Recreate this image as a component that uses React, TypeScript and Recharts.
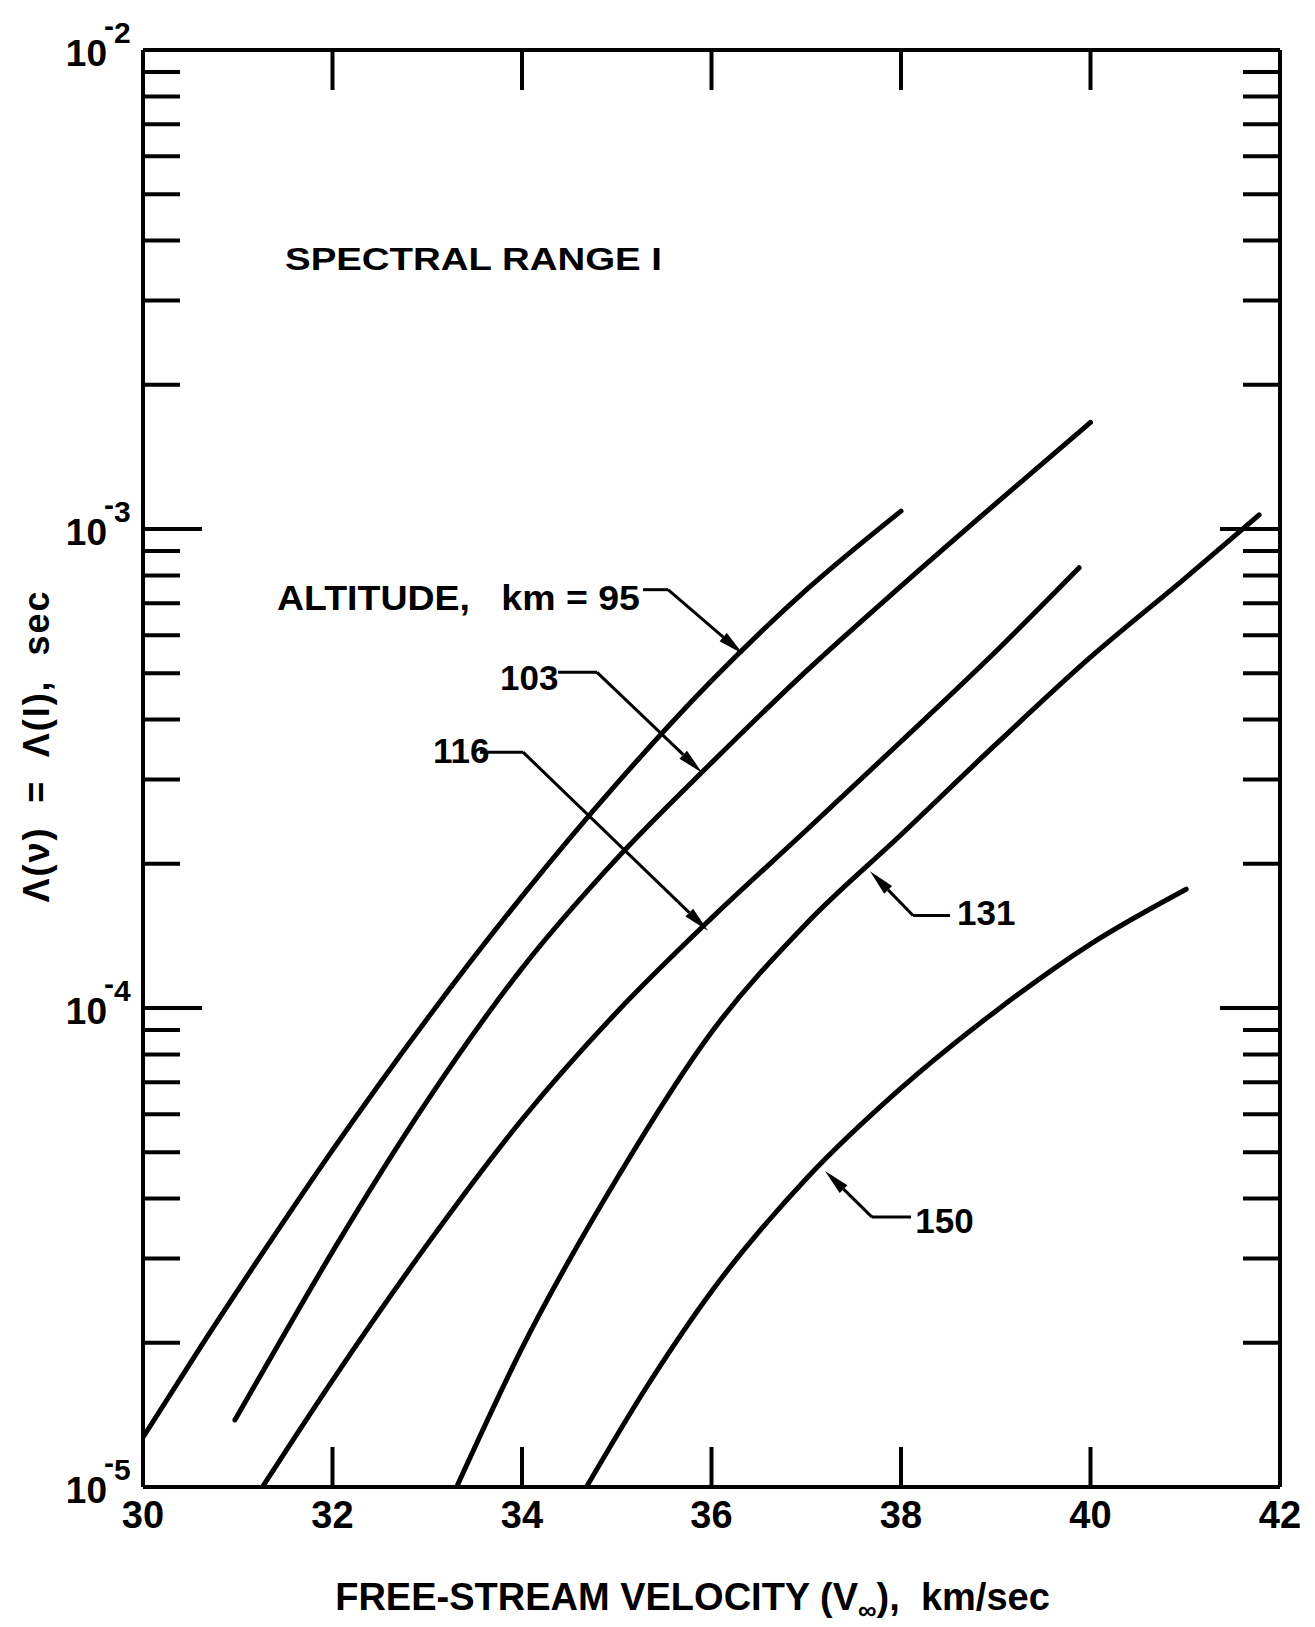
import React from 'react';
import { LineChart, Line, XAxis, YAxis, ReferenceLine, ReferenceDot } from 'recharts';

const FONT = '"Liberation Sans", Arial, Helvetica, sans-serif';
const INK = '#000';

// free-stream velocity (km/sec) vs Λ (sec), one list per altitude
const alt95 = [
  [30.0, 1.27e-5], [30.6, 1.95e-5], [31.3, 3.16e-5], [32.0, 5.05e-5], [33.0, 9.5e-5],
  [34.0, 1.71e-4], [35.0, 2.94e-4], [36.0, 4.82e-4], [37.0, 7.46e-4], [38.0, 1.09e-3],
];
const alt103 = [
  [30.97, 1.38e-5], [31.5, 2.1e-5], [32.0, 3.1e-5], [33.0, 6.4e-5], [34.0, 1.21e-4],
  [35.0, 2.05e-4], [36.0, 3.25e-4], [37.0, 5.05e-4], [38.0, 7.6e-4], [39.0, 1.13e-3], [40.0, 1.67e-3],
];
const alt116 = [
  [31.26, 1.0e-5], [32.0, 1.67e-5], [33.0, 3.21e-5], [34.0, 5.85e-5], [35.0, 9.8e-5],
  [36.0, 1.54e-4], [37.0, 2.35e-4], [38.0, 3.6e-4], [39.0, 5.55e-4], [39.88, 8.3e-4],
];
const alt131 = [
  [33.31, 1.0e-5], [34.0, 1.95e-5], [35.0, 4.4e-5], [36.0, 8.9e-5], [37.0, 1.5e-4],
  [38.0, 2.3e-4], [39.0, 3.55e-4], [40.0, 5.4e-4], [41.0, 7.9e-4], [41.78, 1.07e-3],
];
const alt150 = [
  [34.68, 1.0e-5], [35.3, 1.6e-5], [36.0, 2.56e-5], [37.0, 4.4e-5], [38.0, 6.8e-5],
  [39.0, 9.85e-5], [40.0, 1.36e-4], [41.01, 1.77e-4],
];

const curves = [alt95, alt103, alt116, alt131, alt150];

const velocityTicks = [30, 32, 34, 36, 38, 40, 42];
const decades = [1e-5, 1e-4, 1e-3, 1e-2];
const decadeExponents = ['5', '4', '3', '2'];
const mantissas = [1, 2, 3, 4, 5, 6, 7, 8, 9];
const lambdaTicks = decades.slice(0, 3).flatMap((d) => mantissas.map((m) => m * d)).concat([1e-2]);

// callouts: label anchor (left/baseline) and leader path, in data units
const callouts = [
  { text: 'ALTITUDE,   km = 95', at: [31.414, 6.78e-4], len: 363, path: [[35.277, 7.47e-4], [35.541, 7.47e-4], [36.332, 5.48e-4]] },
  { text: '103', at: [33.768, 4.61e-4], len: 0, path: [[34.38, 5.02e-4], [34.792, 5.02e-4], [35.9, 3.1e-4]] },
  { text: '116', at: [33.061, 3.25e-4], len: 0, path: [[33.557, 3.42e-4], [34.011, 3.42e-4], [35.963, 1.45e-4]] },
  { text: '131', at: [38.591, 1.49e-4], len: 0, path: [[38.517, 1.56e-4], [38.127, 1.56e-4], [37.673, 1.93e-4]] },
  { text: '150', at: [38.15, 3.39e-5], len: 0, path: [[38.106, 3.66e-5], [37.694, 3.66e-5], [37.198, 4.57e-5]] },
];

const W = 1300;
const H = 1619;
const M = { top: 41, right: 27, bottom: 139, left: 134 };
const PLOT_L = M.left + 1;
const PLOT_R = W - M.right - 1;
const PLOT_T = M.top + 1;
const PLOT_B = H - M.bottom - 1;

const majorIndex = (v: number) =>
  decades.findIndex((d) => Math.abs(Math.log10(v) - Math.log10(d)) < 1e-6);

const bottomTick = (p: any) => {
  const { x, y, payload } = p;
  const v = payload.value;
  const inner = v > velocityTicks[0] && v < velocityTicks[velocityTicks.length - 1];
  return (
    <g>
      {inner && <line x1={x} x2={x} y1={y} y2={y - 40} stroke={INK} strokeWidth={4} />}
      <text x={x} y={y + 41} textAnchor="middle" fontFamily={FONT} fontWeight="bold" fontSize={38} fill={INK}>
        {v}
      </text>
    </g>
  );
};

const topTick = (p: any) => {
  const { x, y, payload } = p;
  const v = payload.value;
  if (v <= velocityTicks[0] || v >= velocityTicks[velocityTicks.length - 1]) return <g />;
  return <line x1={x} x2={x} y1={y} y2={y + 40} stroke={INK} strokeWidth={4} />;
};

const leftTick = (p: any) => {
  const { x, y, payload } = p;
  const idx = majorIndex(payload.value);
  const len = idx >= 0 ? 59 : 37;
  return (
    <g>
      <line x1={x} x2={x + len} y1={y} y2={y} stroke={INK} strokeWidth={4} />
      {idx >= 0 && (
        <text x={x - 36} y={y + 16} textAnchor="end" fontFamily={FONT} fontWeight="bold" fontSize={37} fill={INK}>
          10
        </text>
      )}
      {idx >= 0 && (
        <text x={x - 39} y={y - 7} fontFamily={FONT} fontWeight="bold" fontSize={30} fill={INK}>
          <tspan dy={-7}>-</tspan>
          <tspan dy={7}>{decadeExponents[idx]}</tspan>
        </text>
      )}
    </g>
  );
};

const rightTick = (p: any) => {
  const { x, y, payload } = p;
  const len = majorIndex(payload.value) >= 0 ? 60 : 37;
  return <line x1={x} x2={x - len} y1={y} y2={y} stroke={INK} strokeWidth={4} />;
};

const arrowLine = (p: any) => {
  const { x1, y1, x2, y2 } = p;
  const dx = x2 - x1;
  const dy = y2 - y1;
  const L = Math.hypot(dx, dy) || 1;
  const ux = dx / L;
  const uy = dy / L;
  const bx = x2 - ux * 26;
  const by = y2 - uy * 26;
  const nx = -uy * 5.5;
  const ny = ux * 5.5;
  return (
    <g>
      <line x1={x1} y1={y1} x2={bx} y2={by} stroke={INK} strokeWidth={3} />
      <polygon points={`${x2},${y2} ${bx + nx},${by + ny} ${bx - nx},${by - ny}`} fill={INK} />
    </g>
  );
};

const labelAt = (text: string, len: number, size: number) => (p: any) => (
  <text
    x={p.cx}
    y={p.cy}
    fontFamily={FONT}
    fontWeight="bold"
    fontSize={size}
    fill={INK}
    textLength={len > 0 ? len : undefined}
    lengthAdjust={len > 0 ? 'spacingAndGlyphs' : undefined}
    style={{ whiteSpace: 'pre' }}
  >
    {text}
  </text>
);

const xTitle = () => (
  <text
    x={(PLOT_L + PLOT_R) / 2 - 19}
    y={PLOT_B + 123}
    textAnchor="middle"
    fontFamily={FONT}
    fontWeight="bold"
    fontSize={38}
    fill={INK}
    style={{ whiteSpace: 'pre' }}
  >
    FREE-STREAM VELOCITY (V<tspan fontSize={26} dy={9}>∞</tspan>
    <tspan dy={-9}>),  km/sec</tspan>
  </text>
);

const yTitle = () => {
  const cx = 28;
  const cy = PLOT_T + 697;
  return (
    <text
      x={cx}
      y={cy}
      transform={`rotate(-90, ${cx}, ${cy})`}
      textAnchor="middle"
      dominantBaseline="central"
      fontFamily={FONT}
      fontWeight="bold"
      fontSize={36}
      fill={INK}
      textLength={311}
      lengthAdjust="spacing"
      style={{ whiteSpace: 'pre' }}
    >
      Λ(ν)  =  Λ(I),  sec
    </text>
  );
};

export default function App() {
  const series = curves.map((c) => c.map(([v, lam]) => ({ v, lam })));
  const axisLine = { stroke: INK, strokeWidth: 4 };

  return (
    <div style={{ background: '#fff', width: W, height: H }}>
      <LineChart width={W} height={H} margin={M}>
        <XAxis
          xAxisId="b"
          type="number"
          dataKey="v"
          domain={[30, 42]}
          allowDataOverflow
          ticks={velocityTicks}
          interval={0}
          height={1}
          tickSize={0}
          tickMargin={0}
          tickLine={false}
          axisLine={axisLine}
          tick={bottomTick}
          label={{ content: xTitle }}
        />
        <XAxis
          xAxisId="t"
          orientation="top"
          type="number"
          dataKey="v"
          domain={[30, 42]}
          allowDataOverflow
          ticks={velocityTicks}
          interval={0}
          height={1}
          tickSize={0}
          tickMargin={0}
          tickLine={false}
          axisLine={axisLine}
          tick={topTick}
        />
        <YAxis
          yAxisId="l"
          type="number"
          scale="log"
          domain={[1e-5, 1e-2]}
          allowDataOverflow
          ticks={lambdaTicks}
          interval={0}
          width={1}
          tickSize={0}
          tickMargin={0}
          tickLine={false}
          axisLine={axisLine}
          tick={leftTick}
          label={{ content: yTitle }}
        />
        <YAxis
          yAxisId="r"
          orientation="right"
          type="number"
          scale="log"
          domain={[1e-5, 1e-2]}
          allowDataOverflow
          ticks={lambdaTicks}
          interval={0}
          width={1}
          tickSize={0}
          tickMargin={0}
          tickLine={false}
          axisLine={axisLine}
          tick={rightTick}
        />

        {series.map((rows, i) => (
          <Line
            key={`alt-${i}`}
            xAxisId="b"
            yAxisId="l"
            data={rows}
            dataKey="lam"
            type="monotone"
            stroke={INK}
            strokeWidth={5}
            strokeLinecap="round"
            dot={false}
            activeDot={false}
            isAnimationActive={false}
          />
        ))}

        <ReferenceDot
          xAxisId="b"
          yAxisId="l"
          x={31.499}
          y={3.47e-3}
          r={0}
          ifOverflow="visible"
          shape={labelAt('SPECTRAL RANGE I', 377, 32)}
        />

        {callouts.map((c, i) => (
          <ReferenceDot
            key={`ct-${i}`}
            xAxisId="b"
            yAxisId="l"
            x={c.at[0]}
            y={c.at[1]}
            r={0}
            ifOverflow="visible"
            shape={labelAt(c.text, c.len, 35)}
          />
        ))}
        {callouts.map((c, i) => (
          <ReferenceLine
            key={`ch-${i}`}
            xAxisId="b"
            yAxisId="l"
            segment={[{ x: c.path[0][0], y: c.path[0][1] }, { x: c.path[1][0], y: c.path[1][1] }]}
            stroke={INK}
            strokeWidth={3}
            ifOverflow="visible"
          />
        ))}
        {callouts.map((c, i) => (
          <ReferenceLine
            key={`ca-${i}`}
            xAxisId="b"
            yAxisId="l"
            segment={[{ x: c.path[1][0], y: c.path[1][1] }, { x: c.path[2][0], y: c.path[2][1] }]}
            stroke={INK}
            strokeWidth={3}
            ifOverflow="visible"
            shape={arrowLine}
          />
        ))}
      </LineChart>
    </div>
  );
}
